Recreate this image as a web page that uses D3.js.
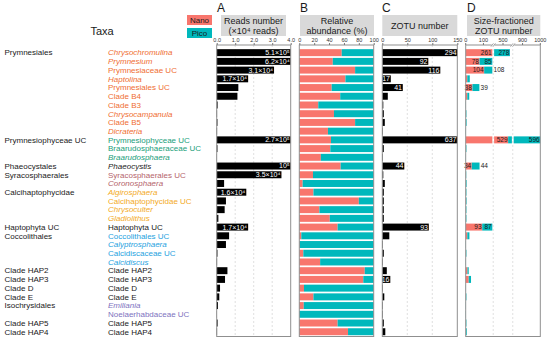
<!DOCTYPE html>
<html><head><meta charset="utf-8">
<script src="https://cdn.jsdelivr.net/npm/d3@7"></script>
<style>body{margin:0;background:#fff}svg text{font-family:"Liberation Sans",Arial,sans-serif}</style>
</head><body><svg id="c" width="550" height="342"></svg>
<script>
// ---------- DATA ----------
const genera = ["Chrysochromulina","Prymnesium","Prymnesiaceae UC","Haptolina","Prymnesiales UC","Clade B4","Clade B3","Chrysocampanula","Clade B5","Dicrateria",
 "Prymnesiophyceae UC","Braarudosphaeraceae UC","Braarudosphaera","Phaeocystis","Syracosphaerales UC","Coronosphaera","Algirosphaera","Calcihaptophycidae UC","Chrysoculter","Gladiolithus",
 "Haptophyta UC","Coccolithales UC","Calyptrosphaera","Calcidiscaceae UC","Calcidiscus","Clade HAP2","Clade HAP3","Clade D","Clade E","Emiliania","Noelaerhabdaceae UC","Clade HAP5","Clade HAP4"];
const orders = ["Prymnesiales","Prymnesiales","Prymnesiales","Prymnesiales","Prymnesiales","Prymnesiales","Prymnesiales","Prymnesiales","Prymnesiales","Prymnesiales",
 "Prymnesiophyceae UC","Prymnesiophyceae UC","Prymnesiophyceae UC","Phaeocystales","Syracosphaerales","Syracosphaerales","Calcihaptophycidae","Calcihaptophycidae","Calcihaptophycidae","Calcihaptophycidae",
 "Haptophyta UC","Coccolithales","Coccolithales","Coccolithales","Coccolithales","Clade HAP2","Clade HAP3","Clade D","Clade E","Isochrysidales","Isochrysidales","Clade HAP5","Clade HAP4"];
const italicNames = ["Chrysochromulina","Prymnesium","Haptolina","Chrysocampanula","Dicrateria","Braarudosphaera","Phaeocystis","Coronosphaera","Algirosphaera","Chrysoculter","Gladiolithus","Calyptrosphaera","Calcidiscus","Emiliania"];
const orderColors = {"Prymnesiales":"#EF6E32","Prymnesiophyceae UC":"#1A9E7A","Syracosphaerales":"#B5646B","Calcihaptophycidae":"#F3AA1E","Coccolithales":"#26A2E0","Isochrysidales":"#7E72C0"};
// A: reads number (x10^4 reads)
const reads = [51,6.2,3.1,1.7,1.17,1.12,0.05,0.02,0.04,0.02,27,0.04,0.01,10,3.5,0.4,1.6,0.5,0.43,0.09,1.7,0.67,0.5,0.04,0.02,0.58,0.45,0.18,0.14,0.07,0.01,0.05,0.02];
const readsLabels = ["5.1×10⁵","6.2×10⁴","3.1×10⁴","1.7×10⁴","","","","","","","2.7×10⁵","","","10⁵","3.5×10⁴","","1.6×10⁴","","","","1.7×10⁴","","","","","","","","","","","",""];
// B: relative abundance of Nano (%), Pico = 100 - Nano
const nanoPct = [57,45,75,62,43.5,55,25.5,46.6,75,38.5,42.6,41.7,29,55.6,18.4,4.5,19,80,27,41,51.5,2.7,0.5,5.4,28,88,86,6.3,19,6,0,51.5,65.5];
// C: ZOTU number
const zotu = [294,92,116,17,41,11,2,3,5,1,637,3,1,44,2,5,3,3,3,3,93,14,1,3,1,9,16,1,4,1,1,3,6];
// D: size-fractioned ZOTU number
const zotuNano = [261,78,104,9,38,9,0,1,1,0,529,1,0,34,1,1,1,2,1,1,93,9,0,1,0,10,17,0,1,0,0,1,1];
const zotuPico = [278,85,108,14,39,11,1,3,4,1,596,3,1,44,2,4,3,3,3,3,87,12,1,3,1,7,13,1,3,1,1,3,5];
const ticksA = [0,1,2,3,4], ticksB = [0,20,40,60,80,100], ticksC = [0,50,100,150], ticksD = [0,100,500,900,1000];
const dBreaks = [[0,150],[450,550],[850,1000]];
const fractions = ["Nano","Pico"];
const fracColors = ["#F8766D","#00B8BC"];

// ---------- LAYOUT ----------
const svg = d3.select("#c");
const pTop = 45, pBot = 336.5;
const y = d3.scaleBand().domain(d3.range(genera.length)).range([48.3, 336.1]).paddingInner(0.2).paddingOuter(0.1);
const yc = i => y(i) + y.bandwidth()/2;
const xA = d3.scaleLinear().domain([0,4]).range([216.7,290.7]);
const xB = d3.scaleLinear().domain([0,100]).range([299.3,373.7]);
const xC = d3.scaleLinear().domain([0,150]).range([382.3,457.3]);
const dX0 = 465.7, dX1 = 540.3, gap = 1.8;
const kD = (dX1 - dX0 - gap*(dBreaks.length-1)) / d3.sum(dBreaks, s => s[1]-s[0]);
let cur = dX0;
const segScales = dBreaks.map(s => { const sc = d3.scaleLinear().domain(s).range([cur, cur + (s[1]-s[0])*kD]); cur += (s[1]-s[0])*kD + gap; return sc; });
function dPieces(a,b){ const out=[]; segScales.forEach(sc=>{const [d0,d1]=sc.domain(); const lo=Math.max(a,d0), hi=Math.min(b,d1); if(hi>lo) out.push([sc(lo),sc(hi)]);}); return out; }
function dPos(v){ for(const sc of segScales){const [d0,d1]=sc.domain(); if(v>=d0&&v<=d1) return sc(v);} return null; }
const ink = "#1a1a1a";

// ---------- TAXA ----------
svg.append("text").attr("x",102).attr("y",35).attr("text-anchor","middle").attr("font-size",11).attr("fill",ink).text("Taxa");
genera.forEach((g,i)=>{
  const col = orderColors[orders[i]] || ink;
  svg.append("text").attr("x",108).attr("y",yc(i)).attr("dy","0.35em").attr("font-size",8)
    .attr("font-style", italicNames.includes(g)?"italic":"normal").attr("fill",col).text(g);
  if(i===0 || orders[i]!==orders[i-1])
    svg.append("text").attr("x",4.5).attr("y",yc(i)).attr("dy","0.35em").attr("font-size",8).attr("fill",ink).text(orders[i]);
});

// ---------- LEGEND ----------
fractions.forEach((f,i)=>{
  const yy = [15,28][i];
  svg.append("rect").attr("x",187).attr("y",yy).attr("width",25).attr("height",10).attr("fill",fracColors[i]);
  svg.append("text").attr("x",199.5).attr("y",yy+5).attr("dy","0.35em").attr("text-anchor","middle").attr("font-size",8).attr("fill",ink).text(f);
});

// ---------- PANEL helpers ----------
function strip(x0,x1,lines){
  svg.append("rect").attr("x",x0).attr("y",15).attr("width",x1-x0).attr("height",21).attr("fill","#D9D9D9");
  const cy = lines.length===1 ? [26] : [20.8,31.2];
  lines.forEach((l,j)=>svg.append("text").attr("x",(x0+x1)/2).attr("y",cy[j]).attr("dy","0.35em").attr("text-anchor","middle").attr("font-size",9).attr("fill",ink).text(l));
}
function letter(x,t){ svg.append("text").attr("x",x).attr("y",12).attr("font-size",12).attr("fill",ink).text(t); }
function frame(x0,x1){ svg.append("rect").attr("x",x0).attr("y",pTop).attr("width",x1-x0).attr("height",pBot-pTop).attr("fill","none").attr("stroke","#8f8f8f").attr("stroke-width",1); }
function grid(xs){ xs.forEach(x=>svg.append("line").attr("x1",x).attr("x2",x).attr("y1",pTop).attr("y2",pBot).attr("stroke","#d3d3d3").attr("stroke-width",0.7).attr("stroke-dasharray","2,2")); }
function axisTop(scale,ticks){
  const g = svg.append("g").attr("transform",`translate(0,${pTop})`).call(d3.axisTop(scale).tickValues(ticks).tickSize(2).tickPadding(1.2));
  g.select(".domain").remove();
  g.selectAll("line").attr("stroke","#777");
  g.selectAll("text").attr("font-size",5.5).attr("fill","#333").attr("font-family","Liberation Sans, Arial, sans-serif");
}

// ---------- A ----------
letter(217,"A"); strip(221,286,["Reads number","(×10⁴ reads)"]);
grid([1,2,3].map(xA));
reads.forEach((v,i)=>{
  const w = xA(Math.min(v,4)) - xA(0);
  svg.append("rect").attr("x",xA(0)).attr("y",y(i)).attr("width",w).attr("height",y.bandwidth()).attr("fill","#000");
  if(readsLabels[i]) svg.append("text").attr("x",xA(Math.min(v,4))-1).attr("y",yc(i)).attr("dy","0.35em").attr("text-anchor","end").attr("font-size",7).attr("fill","#fff").text(readsLabels[i]);
});
frame(216.7,290.7); axisTop(xA,ticksA);

// ---------- B ----------
letter(300,"B"); strip(300,374,["Relative","abundance (%)"]);
nanoPct.forEach((v,i)=>{
  svg.append("rect").attr("x",xB(0)).attr("y",y(i)).attr("width",xB(v)-xB(0)).attr("height",y.bandwidth()).attr("fill",fracColors[0]);
  svg.append("rect").attr("x",xB(v)).attr("y",y(i)).attr("width",xB(100)-xB(v)).attr("height",y.bandwidth()).attr("fill",fracColors[1]);
});
frame(299.3,373.7); axisTop(xB,ticksB);

// ---------- C ----------
letter(382,"C"); strip(382.3,457.3,["ZOTU number"]);
grid([50,100].map(xC));
zotu.forEach((v,i)=>{
  const xe = xC(Math.min(v,150));
  svg.append("rect").attr("x",xC(0)).attr("y",y(i)).attr("width",xe-xC(0)).attr("height",y.bandwidth()).attr("fill","#000");
  if(v>=15) svg.append("text").attr("x",xe-0.8).attr("y",yc(i)).attr("dy","0.35em").attr("text-anchor","end").attr("font-size",7).attr("fill","#fff").text(v);
});
frame(382.3,457.3); axisTop(xC,ticksC);

// ---------- D ----------
letter(467,"D"); strip(467,540.3,["Size-fractioned","ZOTU number"]);
const gapX = segScales.slice(0,-1).map(sc=>sc.range()[1]+gap/2);
grid(gapX);
zotuNano.forEach((n,i)=>{
  const p = zotuPico[i];
  const nP = dPieces(0,n), pP = dPieces(n,n+p);
  nP.forEach(q=>svg.append("rect").attr("x",q[0]).attr("y",y(i)).attr("width",q[1]-q[0]).attr("height",y.bandwidth()).attr("fill",fracColors[0]));
  pP.forEach(q=>svg.append("rect").attr("x",q[0]).attr("y",y(i)).attr("width",q[1]-q[0]).attr("height",y.bandwidth()).attr("fill",fracColors[1]));
  if(n>=30){
    const ln = nP[nP.length-1];
    svg.append("text").attr("x",ln[1]-0.6).attr("y",yc(i)).attr("dy","0.35em").attr("text-anchor","end").attr("font-size",6.5).attr("fill",ink).text(n);
    const lp = pP[pP.length-1];
    const t = svg.append("text").attr("y",yc(i)).attr("dy","0.35em").attr("font-size",6.5).attr("fill",ink).text(p);
    const tw = t.node().getComputedTextLength();
    if(lp[1]-lp[0] >= tw+1.5) t.attr("x",lp[1]-0.6).attr("text-anchor","end");
    else t.attr("x",lp[1]+1.2).attr("text-anchor","start");
  }
});
frame(dX0,dX1);
const gD = svg.append("g");
ticksD.forEach(v=>{
  const x = dPos(v);
  gD.append("line").attr("x1",x).attr("x2",x).attr("y1",pTop).attr("y2",pTop-2).attr("stroke","#777");
  gD.append("text").attr("x",x).attr("y",pTop-3.2).attr("text-anchor","middle").attr("font-size",5.5).attr("fill","#333").text(v);
});
gapX.forEach(x=>{
  svg.append("rect").attr("x",x-1.5).attr("y",pTop-1.5).attr("width",3).attr("height",3).attr("fill","#fff");
  [-1,1].forEach(o=>svg.append("line").attr("x1",x+o-1.2).attr("x2",x+o+1.2).attr("y1",pTop+1.6).attr("y2",pTop-1.6).attr("stroke","#777").attr("stroke-width",0.7));
});
</script></body></html>
